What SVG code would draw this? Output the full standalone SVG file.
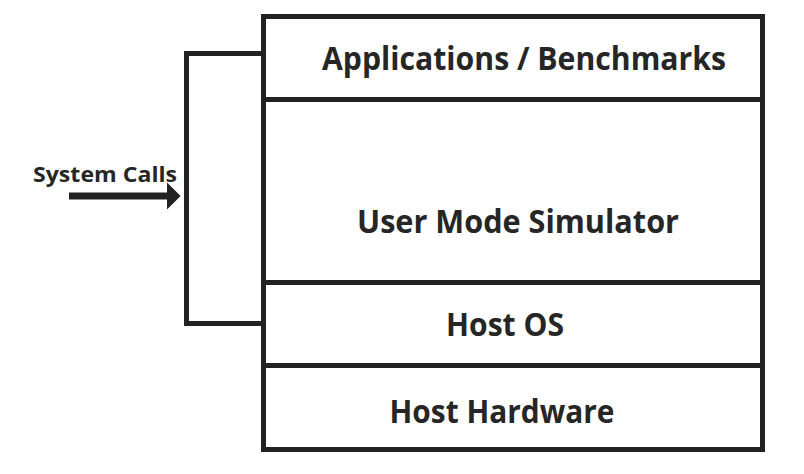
<svg xmlns="http://www.w3.org/2000/svg" width="804" height="474" viewBox="0 0 804 474">
<style>
.box{fill:#fff;stroke:#222;stroke-width:5}
.lbl{font-family:"Open Sans","DejaVu Sans",sans-serif;font-weight:bold;fill:#262626;text-anchor:middle;font-size:32px}
.ln{fill:none;stroke:#222;stroke-width:5}
</style>
<defs>
<marker id="ah" markerWidth="4" markerHeight="4" refX="1.2" refY="2" orient="auto" markerUnits="strokeWidth">
<path d="M0,0 L2,2 L0,4 Z" fill="#222"/>
</marker>
</defs>
<rect width="804" height="474" fill="#fff"/>
<g id="apps">
<rect class="box" x="263.5" y="16.5" width="499" height="83"/>
<text class="lbl" x="524" y="70" textLength="404" lengthAdjust="spacingAndGlyphs">Applications / Benchmarks</text>
</g>
<g id="sim">
<rect class="box" x="263.5" y="99.5" width="499" height="183"/>
<text class="lbl" x="518" y="233" textLength="322" lengthAdjust="spacingAndGlyphs">User Mode Simulator</text>
</g>
<g id="hostos">
<rect class="box" x="263.5" y="282.5" width="499" height="83"/>
<text class="lbl" x="505" y="336" textLength="118" lengthAdjust="spacingAndGlyphs">Host OS</text>
</g>
<g id="hw">
<rect class="box" x="263.5" y="365.5" width="499" height="84"/>
<text class="lbl" x="502" y="423" textLength="225" lengthAdjust="spacingAndGlyphs">Host Hardware</text>
</g>
<g id="connectors">
<path class="ln" d="M263,53.5 H186.5 V323.5 H263"/>
<path d="M69,196 H175" stroke="#222" stroke-width="7" fill="none" marker-end="url(#ah)"/>
<text x="105" y="182" font-family="Open Sans,DejaVu Sans,sans-serif" font-weight="bold" font-size="22" fill="#262626" text-anchor="middle" textLength="144" lengthAdjust="spacingAndGlyphs">System Calls</text>
</g>
</svg>
